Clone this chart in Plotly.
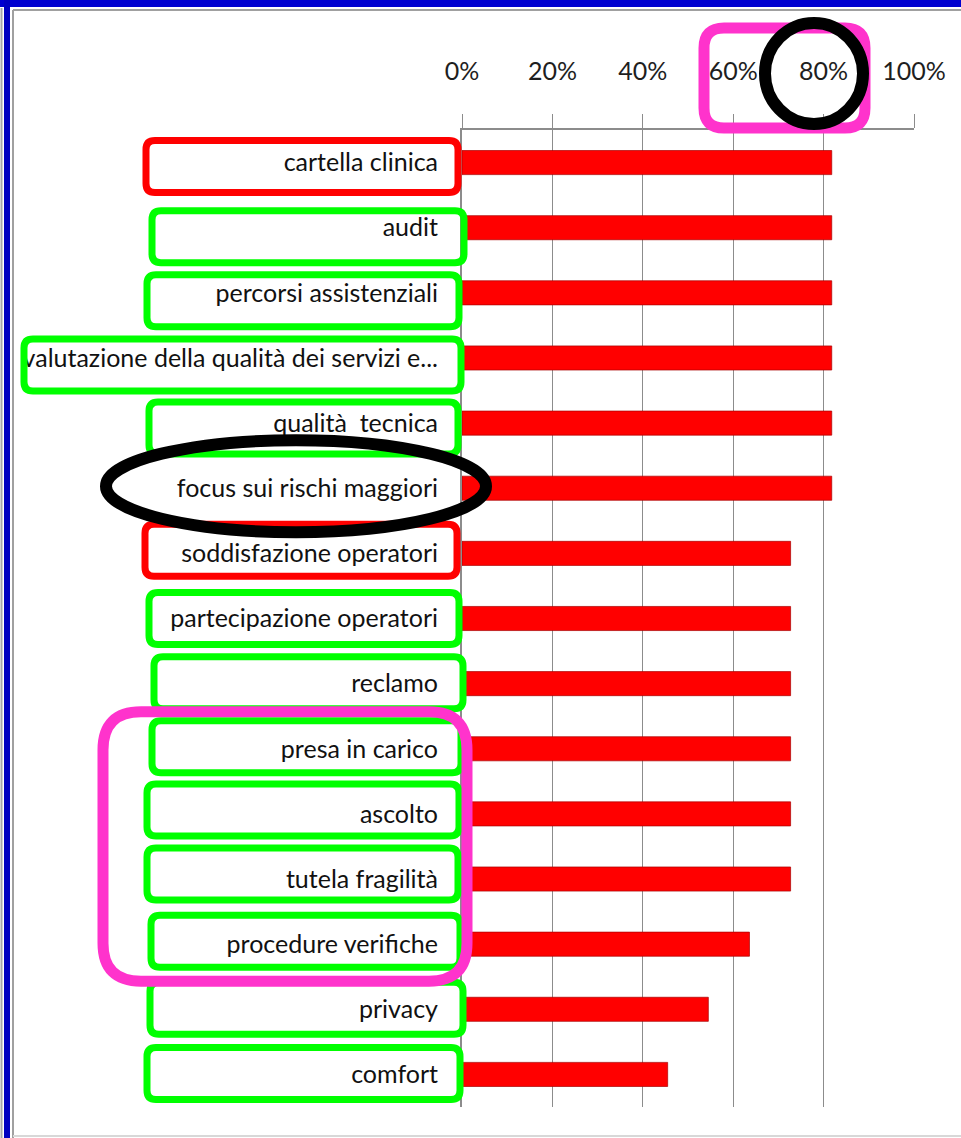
import plotly.graph_objects as go

# --- data -------------------------------------------------------------
categories = [
    "cartella clinica",
    "audit",
    "percorsi assistenziali",
    "valutazione della qualità dei servizi e...",
    "qualità\u00a0 tecnica",
    "focus sui rischi maggiori",
    "soddisfazione operatori",
    "partecipazione operatori",
    "reclamo",
    "presa in carico",
    "ascolto",
    "tutela fragilità",
    "procedure verifiche",
    "privacy",
    "comfort",
]
values = [81.8, 81.8, 81.8, 81.8, 81.8, 81.8,
          72.7, 72.7, 72.7, 72.7, 72.7, 72.7,
          63.6, 54.5, 45.5]
tick_values = [0, 20, 40, 60, 80, 100]
tick_labels = ["0%", "20%", "40%", "60%", "80%", "100%"]

# highlight groups drawn around the category labels
red_labels = ["cartella clinica", "soddisfazione operatori"]
green_labels = ["audit", "percorsi assistenziali",
                "valutazione della qualità dei servizi e...",
                "qualità\u00a0 tecnica", "partecipazione operatori", "reclamo",
                "presa in carico", "ascolto", "tutela fragilità",
                "procedure verifiche", "privacy", "comfort"]

# --- page geometry (pixels) ------------------------------------------
W_PAGE, H_PAGE = 961, 1138
M_L, M_R, M_T, M_B = 462, 47, 130, 31
PW = W_PAGE - M_L - M_R
PH = H_PAGE - M_T - M_B
N = len(categories)
ROW = PH / N

FONT = "Lato, Roboto, sans-serif"


def px_x(px):
    return (px - M_L) / PW


def px_y(py):
    return 1 - (py - M_T) / PH


def row_center(label):
    return M_T + (categories.index(label) + 0.5) * ROW


def rounded_path(x0, x1, y0, y1, r):
    pts = [
        ("M", [(x0 + r, y0)]),
        ("L", [(x1 - r, y0)]),
        ("Q", [(x1, y0), (x1, y0 + r)]),
        ("L", [(x1, y1 - r)]),
        ("Q", [(x1, y1), (x1 - r, y1)]),
        ("L", [(x0 + r, y1)]),
        ("Q", [(x0, y1), (x0, y1 - r)]),
        ("L", [(x0, y0 + r)]),
        ("Q", [(x0, y0), (x0 + r, y0)]),
    ]
    parts = []
    for cmd, pp in pts:
        parts.append(cmd + " " + " ".join(f"{px_x(a):.5f},{px_y(b):.5f}" for a, b in pp))
    return " ".join(parts) + " Z"


fig = go.Figure(
    go.Bar(
        x=values,
        y=categories,
        orientation="h",
        marker=dict(color="#FF0000", line=dict(color="rgba(170,0,0,0.7)", width=1)),
        hovertemplate="%{y}: %{x:.1f}%<extra></extra>",
    )
)

shapes = []

# outer window frame
shapes += [
    dict(type="rect", xref="paper", yref="paper", x0=px_x(0), x1=px_x(W_PAGE),
         y0=px_y(0), y1=px_y(7), fillcolor="#0000D0", line=dict(width=0), layer="below"),
    dict(type="rect", xref="paper", yref="paper", x0=px_x(4), x1=px_x(10),
         y0=px_y(0), y1=px_y(H_PAGE), fillcolor="#0000C0", line=dict(width=0), layer="below"),
    dict(type="line", xref="paper", yref="paper", x0=px_x(1.5), x1=px_x(1.5),
         y0=px_y(8), y1=px_y(H_PAGE), line=dict(color="#A8A8A8", width=2)),
    dict(type="line", xref="paper", yref="paper", x0=px_x(13), x1=px_x(13),
         y0=px_y(10), y1=px_y(H_PAGE), line=dict(color="#A0A0A0", width=2)),
    dict(type="line", xref="paper", yref="paper", x0=px_x(13), x1=px_x(W_PAGE),
         y0=px_y(10), y1=px_y(10), line=dict(color="#A0A0A0", width=2)),
    dict(type="line", xref="paper", yref="paper", x0=px_x(13), x1=px_x(W_PAGE),
         y0=px_y(1136), y1=px_y(1136), line=dict(color="#D8D8D8", width=2)),
]

# label boxes: (left edge px, right edge px, vertical shift px)
box_layout = {
    "cartella clinica": (146, 458, 4),
    "audit": (152, 464, 9),
    "percorsi assistenziali": (147, 459, 8),
    "valutazione della qualità dei servizi e...": (24, 461, 7),
    "qualità\u00a0 tecnica": (149, 458, 5),
    "soddisfazione operatori": (145, 457, -3),
    "partecipazione operatori": (149, 459, 0),
    "reclamo": (154, 463, -1),
    "presa in carico": (152, 461, -2),
    "ascolto": (147, 459, -4),
    "tutela fragilità": (147, 458, -5),
    "procedure verifiche": (151, 460, -3),
    "privacy": (150, 463, -1),
    "comfort": (147, 460, -1),
}
HALF_H = 26

for label in green_labels + red_labels:
    x0, x1, dy = box_layout[label]
    cy = row_center(label) + dy
    color = "#FF0000" if label in red_labels else "#00FF00"
    shapes.append(dict(type="path", xref="paper", yref="paper",
                       path=rounded_path(x0, x1, cy - HALF_H, cy + HALF_H, 9),
                       line=dict(color=color, width=7), layer="above"))

# group box around the "presa in carico" .. "procedure verifiche" rows
top = row_center("presa in carico") - 37
bottom = row_center("procedure verifiche") + 37
shapes.append(dict(type="path", xref="paper", yref="paper",
                   path=rounded_path(103, 467, top, bottom, 38),
                   line=dict(color="#FF33CC", width=11), layer="above"))

# box around the 60% / 80% tick labels
shapes.append(dict(type="path", xref="paper", yref="paper",
                   path=rounded_path(704, 865, 28, 128, 20),
                   line=dict(color="#FF33CC", width=11), layer="above"))

# circle around the 80% tick label
shapes.append(dict(type="circle", xref="paper", yref="paper",
                   x0=px_x(765), x1=px_x(863), y0=px_y(124), y1=px_y(23),
                   line=dict(color="#000000", width=12), layer="above"))

# ellipse around "focus sui rischi maggiori"
cy = row_center("focus sui rischi maggiori") - 2
shapes.append(dict(type="circle", xref="paper", yref="paper",
                   x0=px_x(106), x1=px_x(486), y0=px_y(cy + 46), y1=px_y(cy - 46),
                   line=dict(color="#000000", width=12), layer="above"))

fig.update_layout(
    width=W_PAGE,
    height=H_PAGE,
    margin=dict(l=M_L, r=M_R, t=M_T, b=M_B, pad=0),
    paper_bgcolor="#FFFFFF",
    plot_bgcolor="#FFFFFF",
    bargap=0.63,
    showlegend=False,
    shapes=shapes,
    font=dict(family=FONT, size=25, color="#111111"),
)

fig.update_xaxes(
    side="top",
    range=[0, 100],
    tickvals=tick_values,
    ticktext=tick_labels,
    tickfont=dict(family=FONT, size=25, color="#1E1E1E"),
    ticks="outside",
    ticklen=14,
    tickcolor="#8C8C8C",
    tickwidth=1,
    ticklabelstandoff=24,
    showline=True,
    linecolor="#8C8C8C",
    linewidth=2,
    showgrid=True,
    gridcolor="#8C8C8C",
    gridwidth=1,
    zeroline=False,
    automargin=False,
    fixedrange=True,
)

fig.update_yaxes(
    categoryorder="array",
    categoryarray=categories,
    autorange="reversed",
    showline=True,
    linecolor="#8C8C8C",
    linewidth=2,
    ticks="",
    ticklabelstandoff=17,
    tickfont=dict(family=FONT, size=25, color="#111111"),
    showgrid=False,
    zeroline=False,
    automargin=False,
    fixedrange=True,
)

fig.write_html("out.html")
